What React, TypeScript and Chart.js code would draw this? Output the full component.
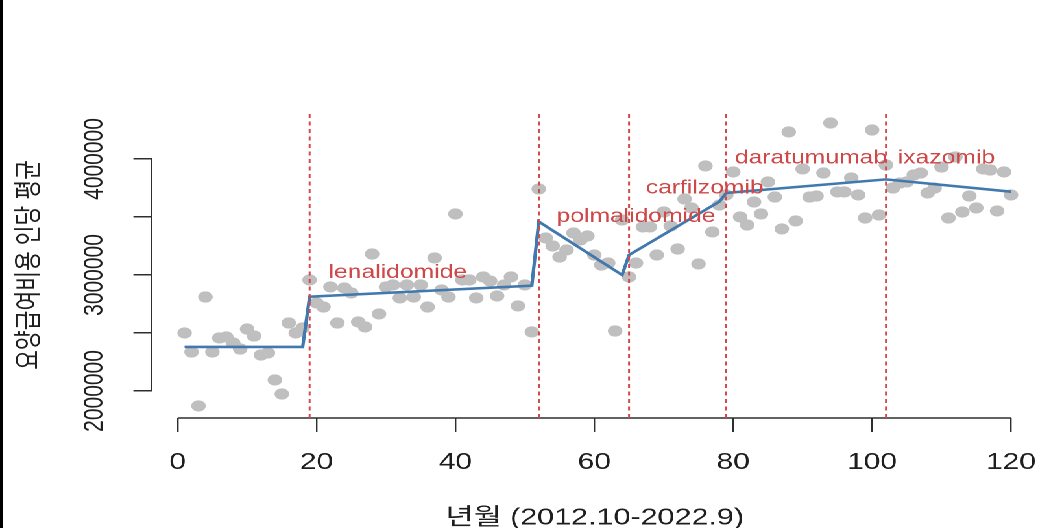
import React, { useEffect, useRef } from 'react';
import { Chart, registerables } from 'chart.js';

Chart.register(...registerables);

// ---------------- data ----------------
const MONTHS: number[] = Array.from({ length: 120 }, (_, i) => i + 1);

const COST: number[] = [
  2500000, 2336000, 1871000, 2810000, 2336000, 2457000, 2466000, 2414000, 2362000, 2534000,
  2474000, 2310000, 2328000, 2095000, 1974000, 2586000, 2500000, 2543000, 2957000, 2759000,
  2724000, 2897000, 2586000, 2888000, 2845000, 2595000, 2552000, 3181000, 2664000, 2897000,
  2914000, 2802000, 2914000, 2810000, 2914000, 2724000, 3147000, 2871000, 2810000, 3526000,
  2957000, 2957000, 2802000, 2983000, 2948000, 2819000, 2914000, 2983000, 2733000, 2914000,
  2509000, 3741000, 3319000, 3250000, 3155000, 3216000, 3362000, 3302000, 3336000, 3172000,
  3086000, 3103000, 2517000, 3474000, 2983000, 3103000, 3414000, 3414000, 3172000, 3543000,
  3422000, 3224000, 3655000, 3578000, 3095000, 3940000, 3371000, 3603000, 3690000, 3888000,
  3500000, 3431000, 3629000, 3526000, 3802000, 3672000, 3397000, 4233000, 3466000, 3914000,
  3672000, 3681000, 3879000, 4310000, 3716000, 3716000, 3836000, 3690000, 3491000, 4250000,
  3517000, 3948000, 3750000, 3793000, 3802000, 3862000, 3879000, 3707000, 3750000, 3931000,
  3491000, 4017000, 3543000, 3681000, 3578000, 3914000, 3905000, 3552000, 3888000, 3690000,
];

const FIT_X: number[] = [1, 18, 19, 51, 52, 64, 65, 78, 79, 102, 120];
const FIT_Y: number[] = [2380000, 2380000, 2813000, 2908000, 3460000, 3000000, 3172000, 3632000, 3707000, 3824000, 3718000];

const BREAKS: number[] = [19, 52, 65, 79, 102];

const DRUG_NAMES: string[] = ['lenalidomide', 'polmalidomide', 'carfilzomib', 'daratumumab', 'ixazomib'];
const DRUG_X: number[] = [31.7, 66.0, 75.9, 91.2, 110.7];
const DRUG_Y: number[] = [3017000, 3503000, 3747000, 4006000, 4006000];

const X_TICKS: number[] = [0, 20, 40, 60, 80, 100, 120];
const Y_TICKS: number[] = [2000000, 2500000, 3000000, 3500000, 4000000];
const Y_LABELED: number[] = [2000000, 3000000, 4000000];

const X_TITLE = '년월 (2012.10-2022.9)';
const Y_TITLE = '요양급여비용 인당 평균';

// ---------------- layout / style ----------------
const CANVAS_W = 800;
const CANVAS_H = 528;
const STRETCH = 1038 / CANVAS_W;
const X_MIN = -3.76;
const X_MAX = 123.89;
const Y_MIN = 1767000;
const Y_MAX = 4405000;
const PLOT_LEFT = 116.8;
const PLOT_TOP = 112;
const X_SCALE_H = 110;
const TICK_LEN = 14;
const Y_LABEL_CENTER = 73.2;

const FONT = '"Liberation Sans", Arial, "Noto Sans CJK KR", sans-serif';
const TEXT_COLOR = '#1e1e1e';
const AXIS_COLOR = '#2e2e2e';
const POINT_COLOR = '#bfbfbf';
const FIT_COLOR = '#4179ae';
const BREAK_COLOR = '#d4494a';
const LABEL_COLOR = '#cf4848';

const rStylePlugin = {
  id: 'rStyle',
  beforeDatasetsDraw(chart: any) {
    const { ctx, chartArea, scales } = chart;
    const x = scales.x;
    const y = scales.y;
    ctx.save();
    ctx.strokeStyle = AXIS_COLOR;
    ctx.lineWidth = 1.5;
    ctx.beginPath();
    ctx.moveTo(x.getPixelForValue(X_TICKS[0]), chartArea.bottom);
    ctx.lineTo(x.getPixelForValue(X_TICKS[X_TICKS.length - 1]), chartArea.bottom);
    ctx.stroke();
    ctx.lineWidth = 1.2;
    ctx.beginPath();
    ctx.moveTo(chartArea.left, y.getPixelForValue(Y_TICKS[0]));
    ctx.lineTo(chartArea.left, y.getPixelForValue(Y_TICKS[Y_TICKS.length - 1]));
    ctx.stroke();
    ctx.restore();
  },
  afterDatasetsDraw(chart: any) {
    const { ctx, scales } = chart;
    const x = scales.x;
    const y = scales.y;
    ctx.save();
    ctx.font = `normal 19px ${FONT}`;
    ctx.fillStyle = LABEL_COLOR;
    ctx.textAlign = 'center';
    ctx.textBaseline = 'middle';
    DRUG_NAMES.forEach((name, i) => {
      ctx.fillText(name, x.getPixelForValue(DRUG_X[i]), y.getPixelForValue(DRUG_Y[i]));
    });
    ctx.restore();
  },
};

export default function App() {
  const ref = useRef<HTMLCanvasElement>(null);

  useEffect(() => {
    const canvas = ref.current;
    if (!canvas) return;

    const m = document.createElement('canvas').getContext('2d')!;
    m.font = `normal 21px ${FONT}`;
    const widest = Math.max(...Y_LABELED.map((v) => m.measureText(String(v)).width));
    const yTickPad = PLOT_LEFT - TICK_LEN - Y_LABEL_CENTER - widest / 2;

    const datasets: any[] = [
      {
        type: 'scatter',
        data: MONTHS.map((mo, i) => ({ x: mo, y: COST[i] })),
        backgroundColor: POINT_COLOR,
        borderWidth: 0,
        pointRadius: 5.6,
        pointHoverRadius: 5.6,
        order: 3,
        clip: false,
      },
      {
        type: 'line',
        data: FIT_X.map((fx, i) => ({ x: fx, y: FIT_Y[i] })),
        borderColor: FIT_COLOR,
        borderWidth: 2.6,
        pointRadius: 0,
        fill: false,
        tension: 0,
        order: 2,
      },
      ...BREAKS.map((b) => ({
        type: 'line',
        data: [
          { x: b, y: Y_MIN },
          { x: b, y: Y_MAX },
        ],
        borderColor: BREAK_COLOR,
        borderWidth: 1.5,
        borderDash: [4, 3.5],
        pointRadius: 0,
        fill: false,
        order: 1,
      })),
    ];

    const chart = new Chart(canvas, {
      type: 'scatter',
      data: { datasets },
      options: {
        animation: false,
        responsive: false,
        devicePixelRatio: 2,
        events: [],
        layout: { autoPadding: false, padding: { left: 0, top: PLOT_TOP, right: 0, bottom: 0 } },
        plugins: {
          legend: { display: false },
          tooltip: { enabled: false },
        },
        scales: {
          x: {
            type: 'linear',
            min: X_MIN,
            max: X_MAX,
            afterFit: (s: any) => {
              s.height = X_SCALE_H;
              s.paddingLeft = 0;
              s.paddingRight = 0;
            },
            afterBuildTicks: (s: any) => {
              s.ticks = X_TICKS.map((v) => ({ value: v }));
            },
            grid: {
              display: true,
              drawOnChartArea: false,
              drawTicks: true,
              tickLength: TICK_LEN,
              color: AXIS_COLOR,
              lineWidth: 1.2,
            },
            border: { display: false },
            ticks: {
              autoSkip: false,
              minRotation: 0,
              maxRotation: 0,
              padding: 17,
              color: TEXT_COLOR,
              font: { family: FONT, size: 23 },
              callback: (v: any) => String(v),
            },
            title: {
              display: true,
              text: X_TITLE,
              color: TEXT_COLOR,
              font: { family: FONT, size: 23.5 },
              padding: { top: 0, bottom: -4 },
            },
          },
          y: {
            type: 'linear',
            min: Y_MIN,
            max: Y_MAX,
            afterFit: (s: any) => {
              s.width = PLOT_LEFT;
              s.paddingTop = 0;
              s.paddingBottom = 0;
            },
            afterBuildTicks: (s: any) => {
              s.ticks = Y_TICKS.map((v) => ({ value: v }));
            },
            grid: {
              display: true,
              drawOnChartArea: false,
              drawTicks: true,
              tickLength: TICK_LEN,
              color: AXIS_COLOR,
              lineWidth: 1.5,
            },
            border: { display: false },
            ticks: {
              autoSkip: false,
              minRotation: 90,
              maxRotation: 90,
              crossAlign: 'center',
              padding: yTickPad,
              color: TEXT_COLOR,
              font: { family: FONT, size: 21 },
              callback: (v: any) => (Y_LABELED.includes(Number(v)) ? String(v) : ''),
            },
            title: {
              display: true,
              text: Y_TITLE,
              color: TEXT_COLOR,
              font: { family: FONT, size: 21.5 },
              padding: { top: 10, bottom: 0 },
            },
          },
        },
      } as any,
      plugins: [rStylePlugin],
    });

    return () => chart.destroy();
  }, []);

  return (
    <div>
      <div
        style={{
          position: 'absolute',
          left: 0,
          top: 0,
          width: CANVAS_W,
          height: CANVAS_H,
          transform: `scale(${STRETCH}, 1)`,
          transformOrigin: '0 0',
          background: '#fff',
        }}
      >
        <canvas ref={ref} width={CANVAS_W} height={CANVAS_H} style={{ display: 'block' }} />
      </div>
      <div style={{ position: 'absolute', left: 0, top: 0, width: 3, height: CANVAS_H, background: '#000' }} />
    </div>
  );
}
